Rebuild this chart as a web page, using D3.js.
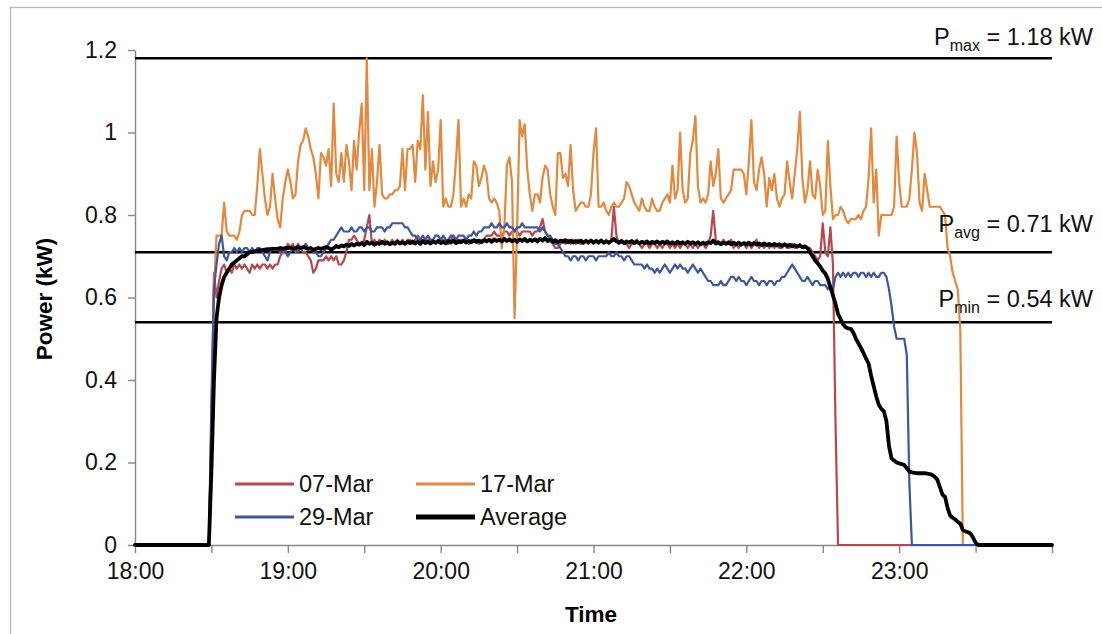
<!DOCTYPE html>
<html><head><meta charset="utf-8">
<script src="https://cdn.jsdelivr.net/npm/d3@7"></script>
<style>body{margin:0;background:#fff}svg{display:block}</style>
</head><body><svg id="c" width="1102" height="634"></svg>
<script>
// ---------- data ----------
const seriesNames = ["07-Mar", "17-Mar", "29-Mar", "Average"];
const startMinute = 29; // first value of every series is at 18:29, one value per minute
const xTickMinutes = [0,30,60,90,120,150,180,210,240,270,300,330,360];
const xTickLabels = {0:"18:00",60:"19:00",120:"20:00",180:"21:00",240:"22:00",300:"23:00"};
const yTicks = [0,0.2,0.4,0.6,0.8,1,1.2];
const yTickLabels = ["0","0.2","0.4","0.6","0.8","1","1.2"];
const refLevels = [1.18, 0.71, 0.54];
const refSubs = ["max", "avg", "min"];
const refTexts = [" = 1.18 kW", " = 0.71 kW", " = 0.54 kW"];

const mar07 = [
0,0.30,0.66,0.60,0.64,0.67,0.68,0.66,0.67,0.66,
0.68,0.67,0.68,0.67,0.68,0.67,0.66,0.68,0.67,0.68,
0.67,0.68,0.68,0.67,0.68,0.67,0.68,0.68,0.70,0.71,
0.71,0.73,0.72,0.73,0.71,0.73,0.72,0.71,0.71,0.70,
0.69,0.66,0.67,0.69,0.69,0.69,0.70,0.69,0.70,0.69,
0.70,0.68,0.68,0.69,0.71,0.74,0.74,0.75,0.74,0.73,
0.73,0.74,0.77,0.80,0.73,0.74,0.73,0.74,0.73,0.74,
0.73,0.73,0.74,0.73,0.74,0.73,0.74,0.73,0.74,0.74,
0.73,0.74,0.75,0.74,0.74,0.73,0.74,0.74,0.74,0.73,
0.74,0.74,0.74,0.74,0.73,0.74,0.75,0.74,0.74,0.74,
0.74,0.74,0.73,0.74,0.74,0.74,0.73,0.74,0.74,0.75,
0.75,0.75,0.76,0.75,0.75,0.75,0.76,0.76,0.75,0.76,
0.76,0.76,0.75,0.76,0.76,0.76,0.76,0.75,0.76,0.76,
0.77,0.79,0.76,0.75,0.74,0.73,0.72,0.72,0.73,0.74,
0.73,0.74,0.73,0.74,0.73,0.74,0.73,0.73,0.74,0.73,
0.74,0.73,0.74,0.73,0.74,0.73,0.74,0.73,0.74,0.82,
0.75,0.73,0.74,0.73,0.73,0.72,0.73,0.73,0.74,0.73,
0.72,0.73,0.73,0.72,0.73,0.73,0.72,0.73,0.72,0.73,
0.73,0.72,0.73,0.72,0.73,0.72,0.73,0.73,0.72,0.73,
0.72,0.73,0.72,0.73,0.73,0.72,0.73,0.75,0.81,0.74,
0.73,0.73,0.74,0.73,0.73,0.74,0.72,0.73,0.72,0.73,
0.73,0.72,0.73,0.72,0.73,0.74,0.72,0.73,0.72,0.73,
0.72,0.73,0.72,0.73,0.72,0.72,0.73,0.72,0.72,0.73,
0.72,0.72,0.73,0.72,0.72,0.72,0.72,0.71,0.70,0.69,
0.70,0.78,0.71,0.70,0.77,0.68,0.30,0];

const mar17 = [
0,0.30,0.62,0.75,0.75,0.75,0.83,0.76,0.75,0.75,
0.75,0.74,0.76,0.80,0.81,0.81,0.81,0.80,0.80,0.87,
0.96,0.90,0.84,0.80,0.82,0.90,0.84,0.79,0.77,0.84,
0.88,0.91,0.88,0.84,0.85,0.93,0.97,0.98,1.01,0.99,
0.96,0.94,0.90,0.84,0.95,0.94,0.92,0.96,0.87,1.07,
0.90,0.88,0.95,0.88,0.97,0.93,0.86,0.98,0.91,1.00,
1.07,0.86,1.18,0.86,0.96,0.82,0.88,0.97,0.85,0.84,
0.84,0.85,0.85,0.86,0.86,0.87,0.96,0.86,0.96,0.96,
0.97,0.88,0.98,0.96,1.09,0.91,1.05,0.87,0.93,0.88,
0.91,1.03,0.82,0.84,0.82,0.82,0.85,0.93,1.03,0.82,
0.84,0.82,0.85,0.84,0.93,0.92,0.87,0.89,0.92,0.90,
0.84,0.83,0.84,0.83,0.81,0.72,0.77,0.92,0.94,0.88,
0.55,0.76,1.03,0.99,1.02,0.91,0.85,0.81,0.85,0.85,
0.83,0.89,0.92,0.91,0.85,0.82,0.80,0.95,0.95,0.89,
0.90,0.87,0.97,0.86,0.81,0.82,0.83,0.83,0.82,0.82,
0.85,0.95,1.01,0.82,0.82,0.83,0.81,0.80,0.82,0.83,
0.82,0.82,0.83,0.84,0.88,0.87,0.85,0.83,0.82,0.81,
0.84,0.82,0.81,0.81,0.84,0.82,0.81,0.81,0.83,0.84,
0.85,0.83,0.92,0.84,0.86,1.00,0.86,0.83,0.84,0.95,
0.98,1.04,0.87,0.83,0.84,0.83,0.85,0.93,0.87,0.90,
0.96,0.84,0.83,0.84,0.85,0.86,0.91,0.91,0.91,0.91,
0.90,0.85,0.93,1.03,0.88,0.86,0.91,0.94,0.90,0.82,
0.89,0.86,0.90,0.84,0.82,0.84,0.85,0.93,0.88,0.84,
0.90,0.96,1.05,0.89,0.83,0.86,0.93,0.85,0.84,0.91,
0.87,0.80,0.81,0.98,0.87,0.79,0.80,0.80,0.82,0.81,
0.79,0.78,0.79,0.79,0.79,0.80,0.79,0.81,0.82,0.89,
1.01,0.83,0.91,0.75,0.80,0.80,0.80,0.80,0.80,0.82,
0.99,0.88,0.82,0.82,0.82,0.84,0.91,1.00,0.95,0.83,
0.81,0.90,0.86,0.82,0.82,0.82,0.82,0.82,0.81,0.80,
0.72,0.70,0.66,0.64,0.62,0.52,0];

const mar29 = [
0,0.35,0.62,0.68,0.73,0.75,0.70,0.69,0.71,0.71,
0.72,0.71,0.72,0.71,0.72,0.72,0.71,0.72,0.71,0.72,
0.72,0.71,0.70,0.69,0.71,0.72,0.72,0.72,0.71,0.72,
0.71,0.70,0.71,0.72,0.72,0.71,0.72,0.72,0.73,0.72,
0.72,0.71,0.71,0.70,0.70,0.71,0.72,0.73,0.74,0.74,
0.75,0.76,0.77,0.76,0.76,0.76,0.77,0.76,0.76,0.77,
0.77,0.76,0.77,0.77,0.76,0.76,0.77,0.77,0.77,0.76,
0.77,0.77,0.78,0.78,0.78,0.78,0.78,0.77,0.77,0.76,
0.75,0.75,0.74,0.74,0.75,0.74,0.75,0.74,0.74,0.75,
0.75,0.74,0.75,0.74,0.74,0.75,0.75,0.74,0.75,0.75,
0.75,0.74,0.75,0.75,0.76,0.75,0.76,0.76,0.77,0.77,
0.77,0.78,0.77,0.77,0.78,0.77,0.77,0.78,0.77,0.77,
0.76,0.77,0.77,0.78,0.77,0.77,0.77,0.77,0.77,0.77,
0.76,0.77,0.76,0.75,0.75,0.74,0.73,0.73,0.72,0.71,
0.70,0.70,0.69,0.70,0.70,0.69,0.70,0.70,0.69,0.70,
0.70,0.70,0.69,0.70,0.70,0.70,0.70,0.71,0.70,0.70,
0.71,0.70,0.70,0.69,0.70,0.70,0.69,0.68,0.68,0.68,
0.68,0.67,0.68,0.67,0.67,0.66,0.67,0.66,0.67,0.68,
0.67,0.66,0.67,0.68,0.67,0.68,0.67,0.67,0.66,0.67,
0.68,0.67,0.66,0.67,0.66,0.65,0.64,0.64,0.63,0.63,
0.63,0.64,0.63,0.63,0.64,0.65,0.65,0.64,0.65,0.64,
0.64,0.63,0.64,0.65,0.64,0.64,0.63,0.64,0.64,0.63,
0.64,0.64,0.63,0.64,0.64,0.65,0.65,0.66,0.67,0.68,
0.67,0.66,0.65,0.64,0.64,0.65,0.64,0.63,0.64,0.64,
0.63,0.63,0.63,0.62,0.63,0.62,0.65,0.66,0.65,0.66,
0.65,0.66,0.65,0.66,0.66,0.65,0.66,0.66,0.65,0.66,
0.65,0.66,0.65,0.65,0.66,0.66,0.65,0.62,0.58,0.53,
0.50,0.50,0.50,0.50,0.46,0.15,0];

const average = [
0,0.18,0.40,0.55,0.60,0.63,0.65,0.66,0.67,0.68,
0.685,0.69,0.695,0.70,0.70,0.705,0.71,0.71,0.712,0.713,
0.715,0.715,0.716,0.717,0.717,0.718,0.718,0.718,0.72,0.718,
0.72,0.72,0.721,0.718,0.72,0.722,0.72,0.722,0.72,0.718,
0.72,0.715,0.718,0.72,0.718,0.72,0.722,0.72,0.716,0.72,
0.725,0.722,0.726,0.724,0.728,0.725,0.73,0.726,0.73,0.728,
0.732,0.727,0.735,0.73,0.733,0.728,0.732,0.73,0.735,0.73,
0.734,0.729,0.733,0.73,0.736,0.731,0.734,0.73,0.735,0.732,
0.736,0.731,0.735,0.73,0.737,0.732,0.735,0.731,0.736,0.733,
0.737,0.732,0.735,0.731,0.737,0.733,0.738,0.732,0.736,0.734,
0.738,0.733,0.737,0.734,0.739,0.735,0.738,0.734,0.739,0.736,
0.74,0.735,0.741,0.737,0.74,0.736,0.742,0.737,0.741,0.736,
0.74,0.735,0.741,0.737,0.742,0.736,0.74,0.737,0.741,0.736,
0.742,0.738,0.744,0.737,0.74,0.735,0.739,0.734,0.738,0.735,
0.739,0.734,0.738,0.733,0.737,0.734,0.738,0.733,0.737,0.734,
0.738,0.733,0.737,0.734,0.738,0.733,0.736,0.733,0.737,0.742,
0.736,0.733,0.737,0.732,0.736,0.733,0.737,0.732,0.736,0.731,
0.735,0.732,0.736,0.731,0.735,0.732,0.736,0.731,0.735,0.732,
0.736,0.731,0.734,0.73,0.735,0.731,0.734,0.73,0.735,0.731,
0.734,0.73,0.734,0.729,0.733,0.73,0.734,0.732,0.738,0.731,
0.734,0.729,0.733,0.73,0.734,0.729,0.733,0.729,0.733,0.728,
0.732,0.729,0.733,0.728,0.732,0.728,0.731,0.727,0.731,0.727,
0.73,0.726,0.73,0.726,0.729,0.725,0.729,0.725,0.728,0.724,
0.727,0.724,0.726,0.722,0.724,0.72,0.71,0.70,0.69,0.683,
0.675,0.665,0.658,0.645,0.625,0.605,0.585,0.56,0.548,0.535,
0.528,0.525,0.524,0.515,0.50,0.489,0.478,0.465,0.452,0.44,
0.41,0.385,0.36,0.34,0.33,0.324,0.30,0.24,0.21,0.205,
0.20,0.198,0.196,0.194,0.186,0.178,0.176,0.175,0.174,0.174,
0.174,0.174,0.173,0.172,0.17,0.165,0.158,0.14,0.122,0.117,
0.09,0.072,0.066,0.062,0.056,0.052,0.036,0.033,0.031,0.028,
0.018,0.006,0];

// ---------- drawing ----------
const seriesData = [mar07, mar17, mar29, average];
const colors = ["#b8464b", "#e3883c", "#3c57a1", "#000000"];
const widths = [2.2, 2.2, 2.2, 3.8];
const FONT = "'Liberation Sans', Arial, sans-serif";

const svg = d3.select("#c");
svg.append("rect").attr("x", 10.5).attr("y", 7.5).attr("width", 1200).attr("height", 700)
  .attr("fill", "#fff").attr("stroke", "#b4b4b4").attr("stroke-width", 1.2);

const x = d3.scaleLinear().domain([0, 360]).range([135, 1052]);
const y = d3.scaleLinear().domain([0, 1.2]).range([545, 50]);

// axes
const yAxis = svg.append("g").attr("transform", "translate(135,0)")
  .call(d3.axisLeft(y).tickValues(yTicks).tickSize(7).tickSizeOuter(0).tickPadding(11)
    .tickFormat((d, i) => yTickLabels[i]));
const xAxis = svg.append("g").attr("transform", "translate(0,545)")
  .call(d3.axisBottom(x).tickValues(xTickMinutes).tickSize(8).tickSizeOuter(0).tickPadding(10)
    .tickFormat(d => xTickLabels[d] || ""));
[yAxis, xAxis].forEach(g => {
  g.attr("font-family", FONT).attr("font-size", 23);
  g.selectAll("path.domain").attr("stroke", "#878787").attr("stroke-width", 1.4);
  g.selectAll(".tick line").attr("stroke", "#878787").attr("stroke-width", 1.4);
  g.selectAll(".tick text").attr("fill", "#111");
});

// reference lines
svg.append("g").selectAll("line").data(refLevels).join("line")
  .attr("x1", x(0)).attr("x2", x(360)).attr("y1", d => y(d)).attr("y2", d => y(d))
  .attr("stroke", "#000").attr("stroke-width", 2.5);

// series
const line = d3.line().x(d => x(d[0])).y(d => y(d[1]));
seriesData.forEach((vals, k) => {
  const pts = [[0, 0]].concat(vals.map((v, i) => [startMinute + i, v])).concat([[360, 0]]);
  svg.append("path").datum(pts).attr("d", line).attr("fill", "none")
    .attr("stroke", colors[k]).attr("stroke-width", widths[k])
    .attr("stroke-linejoin", "round").attr("stroke-linecap", "round");
});

// reference labels
const refBase = [45, 232, 307];
refLevels.forEach((lv, i) => {
  const t = svg.append("text").attr("x", 1093).attr("y", refBase[i]).attr("text-anchor", "end")
    .attr("font-family", FONT).attr("font-size", 23.5).attr("fill", "#111");
  t.append("tspan").text("P");
  t.append("tspan").attr("font-size", 16).attr("dy", 6).text(refSubs[i]);
  t.append("tspan").attr("dy", -6).text(refTexts[i]);
});

// legend
const legPos = [[235, 484], [416, 484], [235, 517], [416, 517]];
seriesNames.forEach((n, k) => {
  const [lx, ly] = legPos[k];
  svg.append("line").attr("x1", lx).attr("x2", lx + 59).attr("y1", ly).attr("y2", ly)
    .attr("stroke", colors[k]).attr("stroke-width", k === 3 ? 5 : 3);
  svg.append("text").attr("x", lx + 64).attr("y", ly + 8).attr("font-family", FONT)
    .attr("font-size", 23.5).attr("fill", "#111").text(n);
});

// axis titles
svg.append("text").attr("transform", "translate(52,299) rotate(-90)").attr("text-anchor", "middle")
  .attr("font-family", FONT).attr("font-size", 22.5).attr("font-weight", "bold").text("Power (kW)");
svg.append("text").attr("x", 591).attr("y", 622).attr("text-anchor", "middle")
  .attr("font-family", FONT).attr("font-size", 22.5).attr("font-weight", "bold").text("Time");
</script></body></html>
